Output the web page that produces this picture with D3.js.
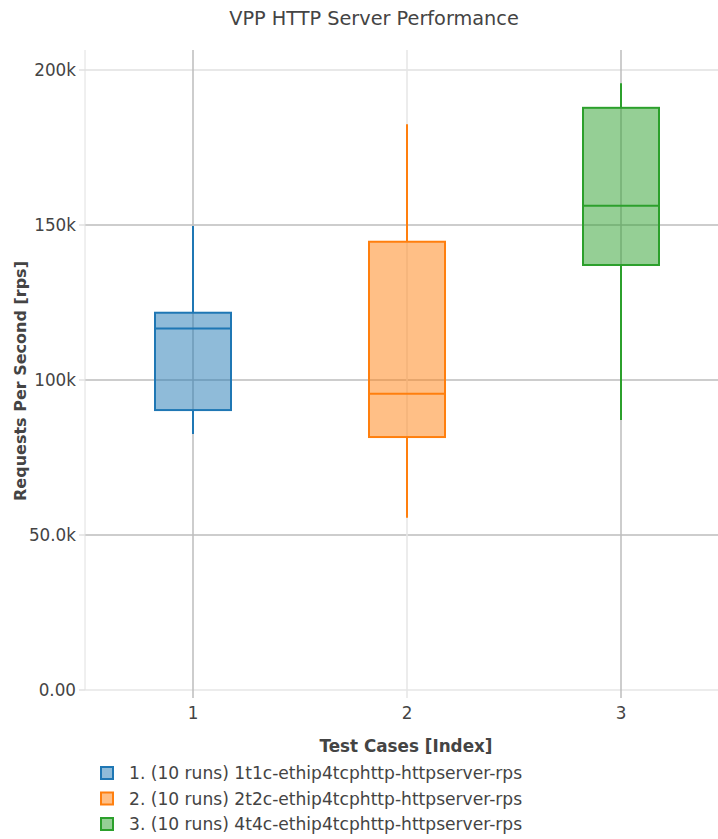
<!DOCTYPE html>
<html><head><meta charset="utf-8">
<script src="https://cdn.jsdelivr.net/npm/d3@7"></script>
<style>body{margin:0;background:#fff}svg{font-family:"DejaVu Sans",sans-serif}</style>
</head><body><svg id="c" width="718" height="839"></svg>
<script>
const categories = [1, 2, 3];
const names = ["1. (10 runs) 1t1c-ethip4tcphttp-httpserver-rps","2. (10 runs) 2t2c-ethip4tcphttp-httpserver-rps","3. (10 runs) 4t4c-ethip4tcphttp-httpserver-rps"];
const lowerWhisker = [82600, 55600, 87100];
const q1 = [90300, 81600, 137100];
const median = [116600, 95600, 156200];
const q3 = [121700, 144600, 187800];
const upperWhisker = [149700, 182500, 195700];
const colors = ["#1f77b4", "#ff7f0e", "#2ca02c"];
const yTicks = [0, 50000, 100000, 150000, 200000];
const yTickLabels = ["0.00", "50.0k", "100k", "150k", "200k"];

const svg = d3.select("#c");
const pLeft = 85, pRight = 718, pTop = 50, pBottom = 690;
const x = d3.scaleLinear().domain([1, 3]).range([193, 621]);
const y = d3.scaleLinear().domain([0, 200000]).range([690, 70]);
const boxW = 76;
const fs = 16.8;

// gridlines
const yGridColor = [ "#e6e6e6", "#bdbdbd", "#bdbdbd", "#bdbdbd", "#e0e0e0"];
svg.append("g").selectAll("line").data(yTicks).join("line")
  .attr("x1", pLeft).attr("x2", pRight).attr("y1", d => y(d)).attr("y2", d => y(d))
  .attr("stroke", (d,i) => yGridColor[i]).attr("stroke-width", 1.5);
const xGridColor = ["#bdbdbd", "#e6e6e6", "#bdbdbd"];
svg.append("g").selectAll("line").data(categories).join("line")
  .attr("x1", d => x(d)).attr("x2", d => x(d)).attr("y1", pTop).attr("y2", pBottom + 8)
  .attr("stroke", (d,i) => xGridColor[i]).attr("stroke-width", 1.5);
svg.append("line").attr("x1", pLeft).attr("x2", pLeft).attr("y1", pTop).attr("y2", pBottom)
  .attr("stroke", "#e0e0e0").attr("stroke-width", 1);

// y ticks
const yAxis = svg.append("g");
yAxis.selectAll("line").data(yTicks).join("line")
  .attr("x1", pLeft - 6).attr("x2", pLeft).attr("y1", d => y(d)).attr("y2", d => y(d))
  .attr("stroke", "#e0e0e0").attr("stroke-width", 1.5);
yAxis.selectAll("text").data(yTicks).join("text")
  .attr("x", pLeft - 9).attr("y", d => y(d)).attr("dy", "0.35em")
  .attr("text-anchor", "end").attr("font-size", fs).attr("fill", "#444")
  .text((d,i) => yTickLabels[i]);

// x ticks
svg.append("g").selectAll("text").data(categories).join("text")
  .attr("x", d => x(d)).attr("y", 719).attr("text-anchor", "middle")
  .attr("font-size", fs).attr("fill", "#444").text(d => d);

// boxes
categories.forEach((c, i) => {
  const g = svg.append("g");
  const cx = x(c);
  g.append("line").attr("x1", cx).attr("x2", cx).attr("y1", y(upperWhisker[i])).attr("y2", y(q3[i]))
    .attr("stroke", colors[i]).attr("stroke-width", 2);
  g.append("line").attr("x1", cx).attr("x2", cx).attr("y1", y(q1[i])).attr("y2", y(lowerWhisker[i]))
    .attr("stroke", colors[i]).attr("stroke-width", 2);
  g.append("rect").attr("x", cx - boxW/2).attr("width", boxW)
    .attr("y", y(q3[i])).attr("height", y(q1[i]) - y(q3[i]))
    .attr("fill", colors[i]).attr("fill-opacity", 0.5)
    .attr("stroke", colors[i]).attr("stroke-width", 2);
  g.append("line").attr("x1", cx - boxW/2).attr("x2", cx + boxW/2)
    .attr("y1", y(median[i])).attr("y2", y(median[i]))
    .attr("stroke", colors[i]).attr("stroke-width", 2);
});

// titles
svg.append("text").attr("x", 374).attr("y", 25).attr("text-anchor", "middle")
  .attr("font-size", 19.3).attr("fill", "#444").text("VPP HTTP Server Performance");
svg.append("text").attr("x", 406).attr("y", 752).attr("text-anchor", "middle")
  .attr("font-size", fs).attr("font-weight", "bold").attr("fill", "#444").text("Test Cases [Index]");
svg.append("text").attr("transform", "translate(26,381) rotate(-90)").attr("text-anchor", "middle")
  .attr("font-size", 16).attr("font-weight", "bold").attr("fill", "#444").text("Requests Per Second [rps]");

// legend
const lg = svg.append("g").selectAll("g").data(names).join("g")
  .attr("transform", (d,i) => `translate(101,${773 + i*25.5})`);
lg.append("rect").attr("x", 0).attr("y", -6).attr("width", 12).attr("height", 12)
  .attr("fill", (d,i) => colors[i]).attr("fill-opacity", 0.5)
  .attr("stroke", (d,i) => colors[i]).attr("stroke-width", 2);
lg.append("text").attr("x", 28).attr("y", 0).attr("dy", "0.35em")
  .attr("font-size", 17.1).attr("fill", "#444").text(d => d);
</script></body></html>
